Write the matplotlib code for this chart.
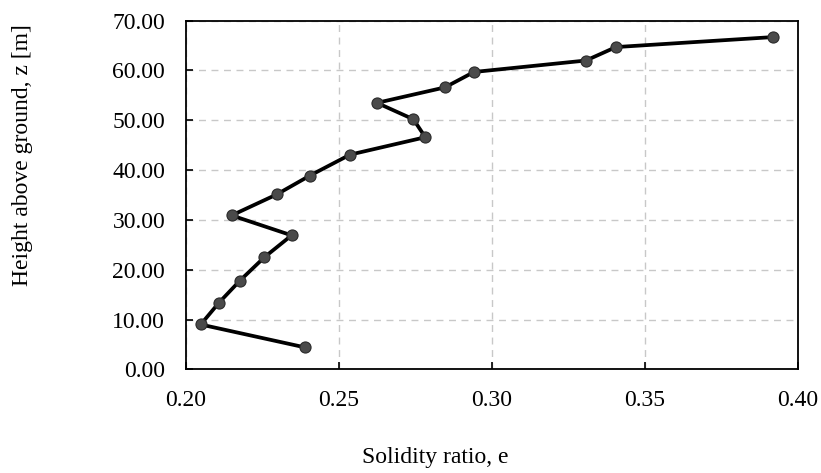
import matplotlib
matplotlib.use('Agg')
import matplotlib.pyplot as plt
from matplotlib.ticker import FormatStrFormatter

matplotlib.rcParams.update({'font.size': 17, 'font.family': 'Liberation Serif'})

# solidity ratio vs height
solidity = [0.2389, 0.2048, 0.2108, 0.2176, 0.2256, 0.2345, 0.2149, 0.2296, 0.2405,
            0.2536, 0.2782, 0.2743, 0.2624, 0.2846, 0.2941, 0.3307, 0.3405, 0.3917]
height = [4.4, 9.0, 13.4, 17.8, 22.5, 26.9, 30.9, 35.1, 38.9,
          43.1, 46.6, 50.2, 53.5, 56.6, 59.7, 62.0, 64.7, 66.7]

fig = plt.figure(figsize=(8.21, 4.73), dpi=100)
ax = fig.add_axes([0.2266, 0.2192, 0.7454, 0.7371])

ax.plot(solidity, height, color='black', lw=2.7, marker='o', ms=8,
        markerfacecolor='#4a4a4a', markeredgecolor='#2a2a2a', markeredgewidth=0.8, zorder=3)

ax.set_xlim(0.20, 0.40)
ax.set_ylim(0, 70)
ax.set_xticks([0.20, 0.25, 0.30, 0.35, 0.40])
ax.set_yticks(range(0, 71, 10))
ax.xaxis.set_major_formatter(FormatStrFormatter('%.2f'))
ax.yaxis.set_major_formatter(FormatStrFormatter('%.2f'))
ax.tick_params(direction='in', length=5, width=1.2, pad=15)
ax.grid(True, color='#c8c8c8', linestyle=(0, (5, 4)), lw=1.0)
for s in ax.spines.values():
    s.set_linewidth(1.3)

# labels sit off-centre like in the original
ax.set_xlabel('Solidity ratio, e')
ax.xaxis.set_label_coords(0.4077, -0.222)
ax.set_ylabel('Height above ground, z [m]')
ax.yaxis.set_label_coords(-0.250, 0.615)

plt.savefig('out.png', dpi=100)
